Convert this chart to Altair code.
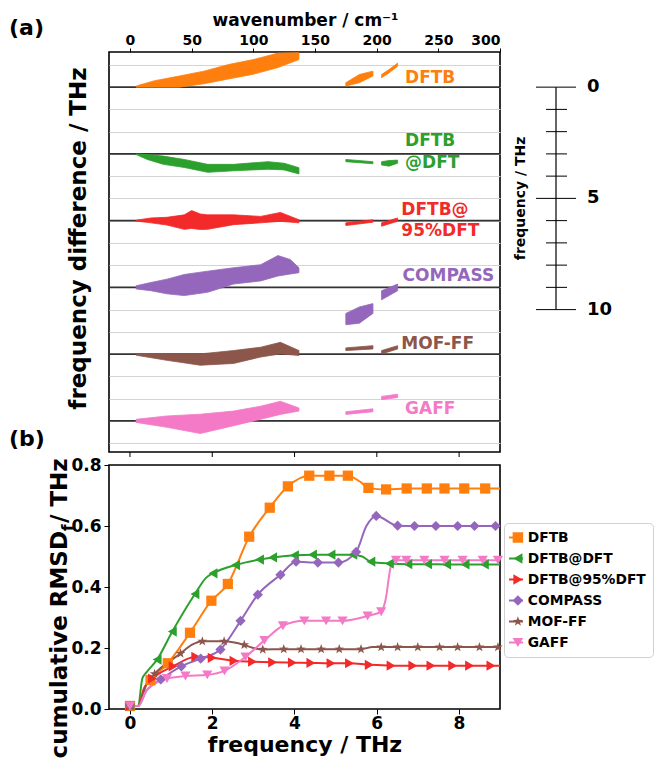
import altair as alt
import pandas as pd

FONT = "DejaVu Sans"

METHODS = ["DFTB", "DFTB@DFT", "DFTB@95%DFT", "COMPASS", "MOF-FF", "GAFF"]
COLORS = ["#ff7f0e", "#2ca02c", "#f22a2a", "#9467bd", "#8c564b", "#f47ac8"]
OFFSETS = [0, -3, -6, -9, -12, -15]
STAR = ("M0,-1L0.235,-0.324L0.951,-0.309L0.38,0.124L0.588,0.809L0,0.4"
        "L-0.588,0.809L-0.38,0.124L-0.951,-0.309L-0.235,-0.324Z")
SHAPES = ["square", "triangle-left", "triangle-right", "diamond", STAR, "triangle-down"]

# ---------------- panel (a): frequency difference clouds (THz) vs wavenumber (cm-1)
DFTB_WN = [5, 20, 40, 60, 80, 100, 120, 137, 175, 186, 197, 204, 210, 217]
DFTB_LO = [0, 0, 0, 0.15, 0.37, 0.58, 0.88, 1.24, 0.05, 0.2, 0.5, 0.42, 0.64, 0.94]
DFTB_HI = [0.05, 0.29, 0.5, 0.72, 1.02, 1.24, 1.53, 1.55, 0.2, 0.57, 0.72, 0.57, 0.79, 1.08]

DDFT_WN = [5, 14, 27, 44, 63, 84, 112, 125, 137, 175, 197, 204, 210, 217]
DDFT_LO = [-0.03, -0.25, -0.47, -0.61, -0.83, -0.76, -0.69, -0.72, -0.9, -0.35, -0.44, -0.5, -0.55, -0.42]
DDFT_HI = [0, -0.03, -0.1, -0.25, -0.47, -0.47, -0.35, -0.42, -0.62, -0.25, -0.35, -0.35, -0.3, -0.28]

D95_WN = [5, 17, 30, 44, 50, 57, 63, 84, 106, 122, 137, 175, 197, 204, 217]
D95_LO = [-0.02, -0.1, -0.2, -0.39, -0.35, -0.4, -0.39, -0.18, -0.1, -0.03, -0.1, -0.22, -0.07, -0.25, -0.03]
D95_HI = [0.02, 0.12, 0.15, 0.26, 0.45, 0.3, 0.26, 0.26, 0.19, 0.37, 0.04, -0.1, 0.04, -0.1, 0.12]

COMP_WN = [5, 17, 30, 44, 63, 84, 106, 120, 130, 137, 175, 186, 197, 204, 217]
COMP_LO = [-0.07, -0.15, -0.29, -0.37, -0.22, 0.15, 0.29, 0.51, 0.6, 0.66, -1.68, -1.61, -1.17, -0.56, -0.15]
COMP_HI = [0.07, 0.22, 0.37, 0.58, 0.73, 0.88, 1.02, 1.43, 1.25, 0.88, -1.17, -0.88, -0.73, -0.15, 0.15]

MOF_WN = [5, 30, 57, 84, 106, 122, 137, 175, 197, 204, 217]
MOF_LO = [-0.05, -0.28, -0.5, -0.42, -0.13, 0.01, -0.06, 0.16, 0.23, 0.01, 0.23]
MOF_HI = [0.02, 0.01, 0.01, 0.16, 0.31, 0.53, 0.16, 0.28, 0.38, 0.16, 0.38]

GAFF_WN = [5, 30, 57, 84, 106, 122, 137, 175, 197, 204, 217]
GAFF_LO = [-0.07, -0.29, -0.57, -0.22, 0.07, 0.29, 0.44, 0.29, 0.41, 0.95, 1.05]
GAFF_HI = [0.07, 0.22, 0.3, 0.44, 0.66, 0.88, 0.58, 0.41, 0.54, 1.1, 1.2]

LABEL_TEXT = ["DFTB", "DFTB", "@DFT", "DFTB@", "95%DFT", "COMPASS", "MOF-FF", "GAFF"]
LABEL_IDX = [0, 1, 1, 2, 2, 3, 4, 5]
LABEL_WN = [223, 223, 223, 220, 220, 221, 220, 223]
LABEL_DY = [0.39, 0.57, -0.39, 0.48, -0.48, 0.53, 0.44, 0.53]

WN_TICKS = [0, 50, 100, 150, 200, 250, 300]
THZ_TICKS = [0, 2, 4, 6, 8]
SCALE_TICKS = [0, 1, 2, 3, 4, 5, 6, 7, 8, 9, 10]
SCALE_LABELS = [0, 5, 10]
CM_PER_THZ = 33.356

# ---------------- panel (b): cumulative RMSD_f
F_DFTB = [0.0, 0.2, 0.35, 0.5, 0.92, 1.46, 1.98, 2.38, 2.9, 3.4, 3.84, 4.36, 4.85, 5.3, 5.6, 5.8, 6.23, 6.73, 7.22, 7.65, 8.13, 8.64, 9.0]
V_DFTB = [0.01, 0.01, 0.07, 0.095, 0.15, 0.25, 0.355, 0.41, 0.565, 0.66, 0.73, 0.765, 0.765, 0.765, 0.745, 0.725, 0.72, 0.723, 0.723, 0.723, 0.723, 0.723, 0.723]
M_DFTB = [1, 0, 0, 1, 1, 1, 1, 1, 1, 1, 1, 1, 1, 1, 0, 1, 1, 1, 1, 1, 1, 1, 0]

F_DDFT = [0.0, 0.2, 0.3, 0.4, 0.66, 1.03, 1.58, 1.85, 2.02, 2.57, 3.15, 3.47, 4.0, 4.44, 4.89, 5.42, 5.65, 5.86, 6.31, 6.76, 7.24, 7.7, 8.15, 8.62, 9.0]
V_DDFT = [0.01, 0.01, 0.1, 0.12, 0.162, 0.254, 0.377, 0.43, 0.445, 0.472, 0.49, 0.497, 0.504, 0.506, 0.506, 0.506, 0.5, 0.483, 0.477, 0.475, 0.475, 0.474, 0.474, 0.474, 0.474]
M_DDFT = [1, 0, 0, 0, 1, 1, 1, 0, 1, 1, 1, 1, 1, 1, 1, 1, 0, 1, 1, 1, 1, 1, 1, 1, 0]

F_D95 = [0.0, 0.2, 0.35, 0.55, 1.05, 1.6, 2.0, 2.53, 2.98, 3.47, 3.95, 4.4, 4.89, 5.34, 5.82, 6.35, 6.88, 7.32, 7.85, 8.26, 8.78, 9.0]
V_D95 = [0.01, 0.01, 0.07, 0.1, 0.14, 0.171, 0.168, 0.158, 0.155, 0.153, 0.152, 0.151, 0.15, 0.15, 0.145, 0.142, 0.142, 0.142, 0.142, 0.142, 0.142, 0.142]
M_D95 = [1, 0, 0, 1, 1, 1, 1, 1, 1, 1, 1, 1, 1, 1, 1, 1, 1, 1, 1, 1, 1, 0]

F_COMP = [0.0, 0.2, 0.4, 0.75, 1.25, 1.72, 2.2, 2.69, 3.11, 3.66, 4.04, 4.57, 5.07, 5.5, 5.75, 5.99, 6.51, 6.92, 7.44, 7.97, 8.38, 8.89, 9.0]
V_COMP = [0.01, 0.01, 0.06, 0.097, 0.14, 0.165, 0.195, 0.289, 0.375, 0.44, 0.483, 0.48, 0.48, 0.515, 0.6, 0.633, 0.601, 0.6, 0.6, 0.6, 0.6, 0.6, 0.6]
M_COMP = [1, 0, 0, 1, 1, 1, 1, 1, 1, 1, 1, 1, 1, 1, 0, 1, 1, 1, 1, 1, 1, 1, 0]

F_MOF = [0.0, 0.2, 0.4, 0.6, 1.23, 1.5, 1.76, 2.29, 2.78, 3.0, 3.23, 3.74, 4.16, 4.65, 5.09, 5.62, 5.9, 6.11, 6.51, 7.0, 7.53, 7.97, 8.5, 8.95, 9.0]
V_MOF = [0.01, 0.01, 0.08, 0.115, 0.182, 0.21, 0.222, 0.222, 0.21, 0.2, 0.195, 0.196, 0.196, 0.196, 0.196, 0.196, 0.203, 0.203, 0.203, 0.203, 0.203, 0.203, 0.203, 0.203, 0.203]
M_MOF = [1, 0, 0, 1, 1, 0, 1, 1, 1, 0, 1, 1, 1, 1, 1, 1, 0, 1, 1, 1, 1, 1, 1, 1, 0]

F_GAFF = [0.0, 0.2, 0.4, 0.9, 1.35, 1.88, 2.3, 2.81, 3.27, 3.72, 4.24, 4.77, 5.17, 5.78, 6.11, 6.22, 6.35, 6.47, 6.72, 7.16, 7.65, 8.09, 8.58, 8.95, 9.0]
V_GAFF = [0.01, 0.01, 0.06, 0.1, 0.108, 0.112, 0.125, 0.171, 0.225, 0.273, 0.289, 0.289, 0.289, 0.305, 0.319, 0.36, 0.47, 0.488, 0.488, 0.488, 0.488, 0.488, 0.488, 0.488, 0.488]
M_GAFF = [1, 0, 0, 1, 1, 1, 1, 1, 1, 1, 1, 1, 1, 1, 1, 0, 0, 1, 1, 1, 1, 1, 1, 1, 0]

RMSD_TICKS = [0.0, 0.2, 0.4, 0.6, 0.8]

W = 391
HA = 400
HB = 244

# ================= build tables =================
bands = [(DFTB_WN, DFTB_LO, DFTB_HI), (DDFT_WN, DDFT_LO, DDFT_HI), (D95_WN, D95_LO, D95_HI),
         (COMP_WN, COMP_LO, COMP_HI), (MOF_WN, MOF_LO, MOF_HI), (GAFF_WN, GAFF_LO, GAFF_HI)]
rows = []
for i, (wn, lo, hi) in enumerate(bands):
    for w, l, h in zip(wn, lo, hi):
        seg = 0 if w < 150 else (1 if w < 200 else 2)
        rows.append(dict(key=f"{i}-{seg}", wn=w, y=OFFSETS[i] + l, y2=OFFSETS[i] + h, col=COLORS[i]))
df_bands = pd.DataFrame(rows)

df_labels = pd.DataFrame({
    "text": LABEL_TEXT,
    "wn": LABEL_WN,
    "y": [OFFSETS[i] + d for i, d in zip(LABEL_IDX, LABEL_DY)],
    "col": [COLORS[i] for i in LABEL_IDX],
})
df_base = pd.DataFrame({"y": OFFSETS})
df_btm = pd.DataFrame({"wn": [t * CM_PER_THZ for t in THZ_TICKS]})
df_sbar = pd.DataFrame({"y": [0], "y2": [-SCALE_TICKS[-1]]})
df_sticks = pd.DataFrame({"y": [-t for t in SCALE_TICKS if t not in SCALE_LABELS]})
df_smajor = pd.DataFrame({"y": [-t for t in SCALE_LABELS], "lab": [str(t) for t in SCALE_LABELS]})
df_stitle = pd.DataFrame({"y": [-5], "t": ["frequency / THz"]})

xa = alt.X("wn:Q",
           scale=alt.Scale(domain=[-17, 300], nice=False, zero=False),
           axis=alt.Axis(orient="top", values=WN_TICKS, format="d", title=None,
                         labelFontSize=14, tickSize=4, labelPadding=1,
                         grid=False, domain=False))
ya = alt.Y("y:Q",
           scale=alt.Scale(domain=[-16.4, 1.58], nice=False, zero=False),
           axis=alt.Axis(values=list(range(-16, 2)), labels=False, ticks=False, domain=False,
                         grid=True, gridColor="#d4d4d4", gridWidth=1,
                         title="frequency difference / THz", titleFontSize=23,
                         titlePadding=19, titleY=186))

rules = alt.Chart(df_base).mark_rule(color="#333333", strokeWidth=1.6).encode(y=ya)
areas = alt.Chart(df_bands).mark_area(opacity=1, strokeWidth=0.8).encode(
    x=xa, y=ya, y2="y2:Q", color=alt.Color("col:N", scale=None),
    stroke=alt.Stroke("col:N", scale=None), detail="key:N")
labels = alt.Chart(df_labels).mark_text(align="left", baseline="middle", fontSize=17,
                                        fontWeight="bold").encode(
    x=xa, y=ya, text="text:N", color=alt.Color("col:N", scale=None))
btm_ticks = alt.Chart(df_btm).mark_rule(color="black").encode(
    x=xa, y=alt.value(HA), y2=alt.value(HA + 5))
sbar = alt.Chart(df_sbar).mark_rule(color="black", strokeWidth=1.2).encode(
    x=alt.value(447), y=ya, y2="y2:Q")
sticks = alt.Chart(df_sticks).mark_rule(color="black", strokeWidth=1).encode(
    x=alt.value(437), x2=alt.value(458), y=ya)
smajor = alt.Chart(df_smajor).mark_rule(color="black", strokeWidth=1).encode(
    x=alt.value(427), x2=alt.value(467), y=ya)
slabels = alt.Chart(df_smajor).mark_text(align="left", baseline="middle", fontSize=18,
                                         fontWeight="bold", color="black").encode(
    x=alt.value(478), y=ya, text="lab:N")
stitle = alt.Chart(df_stitle).mark_text(align="center", baseline="middle", fontSize=14,
                                        fontWeight="bold", angle=270, color="black").encode(
    x=alt.value(412), y=ya, text="t:N")
top_title = alt.Chart(pd.DataFrame({"t": ["wavenumber / cm⁻¹"]})).mark_text(
    align="center", baseline="middle", fontSize=17, fontWeight="bold", color="black").encode(
    x=alt.value(W / 2 + 1), y=alt.value(-31), text="t:N")
tag_a = alt.Chart(pd.DataFrame({"t": ["(a)"]})).mark_text(
    align="left", baseline="middle", fontSize=22, fontWeight="bold", color="black").encode(
    x=alt.value(-100), y=alt.value(-24), text="t:N")

panel_a = alt.layer(rules, areas, labels, btm_ticks, sbar, sticks, smajor, slabels, stitle,
                    top_title, tag_a).properties(width=W, height=HA)

# ---------------- panel (b)
series = [(F_DFTB, V_DFTB, M_DFTB), (F_DDFT, V_DDFT, M_DDFT), (F_D95, V_D95, M_D95),
          (F_COMP, V_COMP, M_COMP), (F_MOF, V_MOF, M_MOF), (F_GAFF, V_GAFF, M_GAFF)]
rows = []
for m, (F, V, M) in zip(METHODS, series):
    for f, v, k in zip(F, V, M):
        rows.append(dict(method=m, series=m + " ", freq=f, val=v, marker=k))
df_b = pd.DataFrame(rows)
LINE_DOMAIN = [m + " " for m in METHODS]

xb = alt.X("freq:Q", scale=alt.Scale(domain=[-0.51, 9.0], nice=False, zero=False),
           axis=alt.Axis(values=THZ_TICKS, format="d", title="frequency / THz",
                         labelFontSize=17, tickSize=5, labelPadding=1, titleFontSize=22,
                         titlePadding=3, grid=False, domain=False))
yb = alt.Y("val:Q", scale=alt.Scale(domain=[0, 0.8], nice=False, zero=False),
           axis=alt.Axis(values=RMSD_TICKS, format=".1f", title=None, labelFontSize=17,
                         tickSize=5, labelPadding=3, grid=False, domain=False))

LEG_X = 395
LEG_Y = 58
leg_mark = alt.Legend(title=None, orient="none", legendX=LEG_X, legendY=LEG_Y, symbolSize=110,
                      labelFontSize=13.8, rowPadding=6, padding=7, labelOffset=3,
                      clipHeight=15, symbolStrokeWidth=0, strokeColor="#d0d0d0",
                      cornerRadius=4)
leg_line = alt.Legend(title=None, orient="none", legendX=LEG_X - 3, legendY=LEG_Y,
                      symbolType="stroke", symbolSize=196, symbolStrokeWidth=2,
                      labelFontSize=13.8, labelExpr="''", rowPadding=6, padding=7,
                      labelOffset=0, clipHeight=15)

lines = alt.Chart(df_b).mark_line(interpolate="monotone", strokeWidth=2).encode(
    x=xb, y=yb,
    stroke=alt.Stroke("series:N", scale=alt.Scale(domain=LINE_DOMAIN, range=COLORS),
                      legend=leg_line))
points = alt.Chart(df_b).transform_filter("datum.marker == 1").mark_point(
    filled=True, opacity=1).encode(
    x=xb, y=yb,
    fill=alt.Fill("method:N", scale=alt.Scale(domain=METHODS, range=COLORS), legend=leg_mark),
    shape=alt.Shape("method:N", scale=alt.Scale(domain=METHODS, range=SHAPES), legend=leg_mark),
    size=alt.value(105))

YA = 66
t1 = alt.Chart(pd.DataFrame({"t": ["cumulative RMSD"]})).mark_text(
    align="right", baseline="alphabetic", angle=270, fontSize=23, fontWeight="bold",
    color="black").encode(x=alt.value(-42), y=alt.value(YA), text="t:N")
t2 = alt.Chart(pd.DataFrame({"t": ["f"]})).mark_text(
    align="left", baseline="alphabetic", angle=270, fontSize=15, fontWeight="bold",
    color="black").encode(x=alt.value(-36), y=alt.value(YA), text="t:N")
t3 = alt.Chart(pd.DataFrame({"t": ["\u00a0/\u00a0THz"]})).mark_text(
    align="left", baseline="alphabetic", angle=270, fontSize=23, fontWeight="bold",
    color="black").encode(x=alt.value(-42), y=alt.value(YA - 8), text="t:N")
tag_b = alt.Chart(pd.DataFrame({"t": ["(b)"]})).mark_text(
    align="left", baseline="middle", fontSize=22, fontWeight="bold", color="black").encode(
    x=alt.value(-100), y=alt.value(-26), text="t:N")

panel_b = alt.layer(lines, points, t1, t2, t3, tag_b).properties(width=W, height=HB)

chart = alt.vconcat(panel_a, panel_b, spacing=13, bounds="flush").resolve_scale(
    fill="independent", shape="independent", stroke="independent", color="independent"
).resolve_legend(
    fill="independent", shape="independent", stroke="independent"
).properties(padding={"top": 3, "left": 0, "right": 0, "bottom": 0}).configure(
    font=FONT
).configure_axis(
    labelFont=FONT, titleFont=FONT, labelFontWeight="bold", titleFontWeight="bold",
    labelColor="black", titleColor="black", tickColor="black", domainColor="black"
).configure_view(stroke="black", strokeWidth=1.6).configure_legend(
    labelFont=FONT, labelFontWeight="bold", labelColor="black"
).configure_text(font=FONT)

chart.save("out.html", embed_options={"renderer": "svg", "actions": False})
